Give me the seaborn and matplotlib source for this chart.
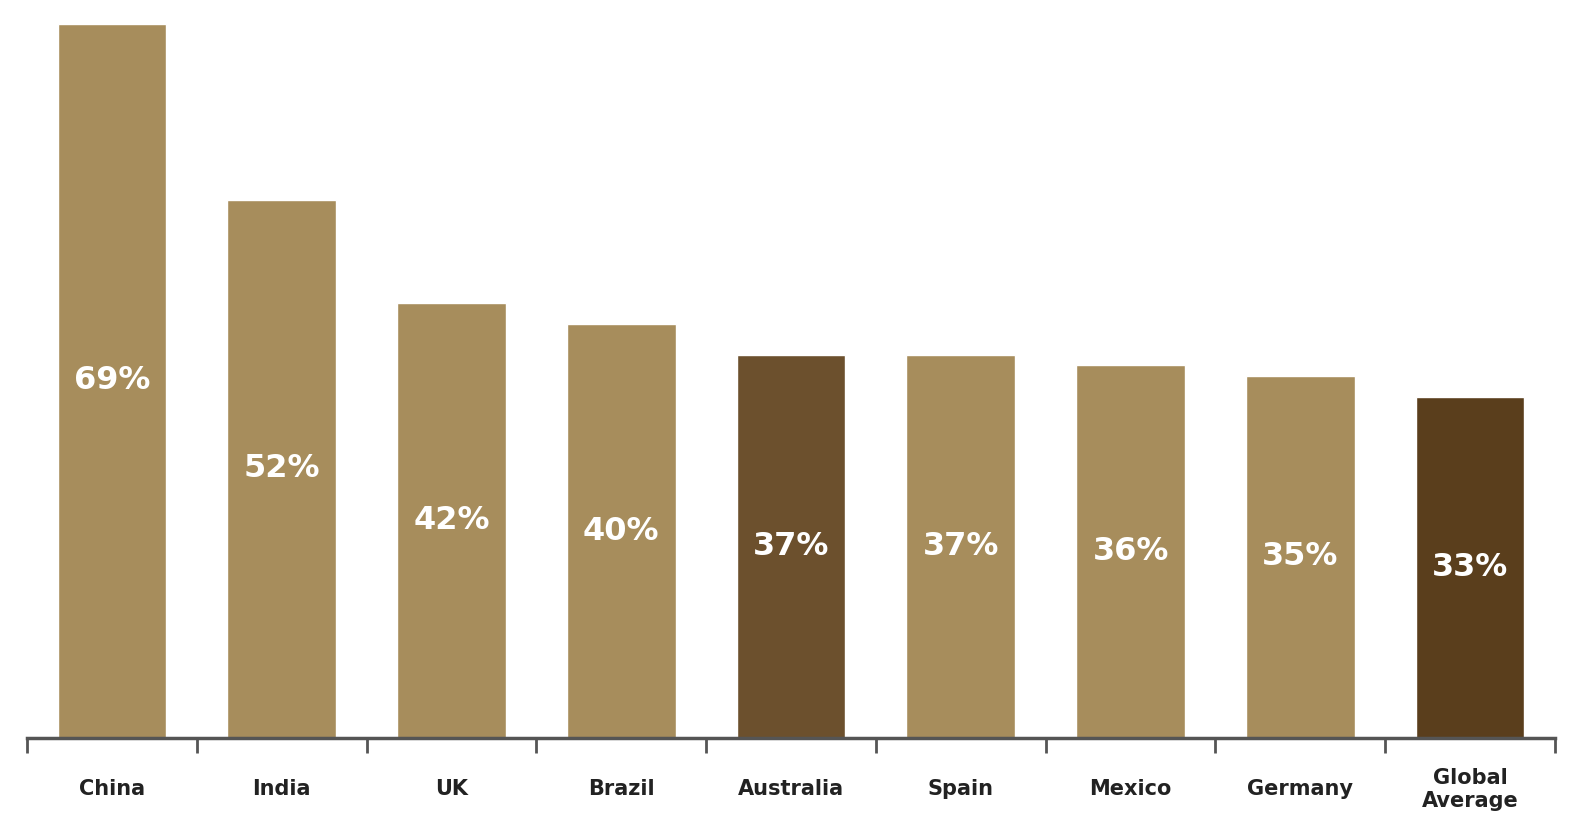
import pandas as pd
import seaborn as sns
import matplotlib.pyplot as plt
from matplotlib.ticker import FixedLocator

# Chart data
countries = ['China', 'India', 'UK', 'Brazil', 'Australia', 'Spain', 'Mexico', 'Germany', 'Global\nAverage']
shares = [69, 52, 42, 40, 37, 37, 36, 35, 33]
bar_colors = ['#a78d5c', '#a78d5c', '#a78d5c', '#a78d5c', '#6c502d',
              '#a78d5c', '#a78d5c', '#a78d5c', '#5a3e1c']

df = pd.DataFrame({'Country': countries, 'Share': shares})

sns.set_style('white')
plt.rcParams['font.family'] = ['DejaVu Sans']

fig = plt.figure(figsize=(15.72, 8.16), dpi=100)
ax = fig.add_axes([0.0172, 0.0956, 0.972, 0.875])

sns.barplot(data=df, x='Country', y='Share', hue='Country', palette=bar_colors,
            width=0.64, legend=False, ax=ax, saturation=1)

# Percent labels in the middle of each bar
for container in ax.containers:
    ax.bar_label(container, labels=[f'{v:.0f}%' for v in container.datavalues],
                 label_type='center', color='white', fontsize=23, fontweight='bold')

ax.set_xlim(-0.5, len(countries) - 0.5)
ax.set_ylim(0, 69)
ax.set_xlabel('')
ax.set_ylabel('')
ax.set_yticks([])

# Ticks at the boundaries between categories
ax.xaxis.set_minor_locator(FixedLocator([i - 0.5 for i in range(len(countries) + 1)]))
ax.tick_params(axis='x', which='minor', bottom=True, direction='out', length=11,
               width=2, color='#555555')
ax.tick_params(axis='x', which='major', bottom=True, length=0, pad=37, labelsize=15)
for lbl in ax.get_xticklabels():
    lbl.set_fontweight('bold')
    lbl.set_color('#222222')
    lbl.set_linespacing(1.15)
    lbl.set_verticalalignment('center')

for side in ['top', 'right', 'left']:
    ax.spines[side].set_visible(False)
ax.spines['bottom'].set_color('#555555')
ax.spines['bottom'].set_linewidth(2.5)

fig.savefig('out.png', dpi=100, facecolor='white')
